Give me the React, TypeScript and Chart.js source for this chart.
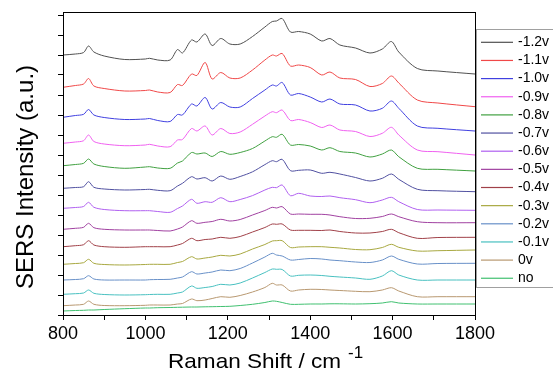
import React, { useEffect, useRef } from 'react';
import { Chart, registerables } from 'chart.js';

Chart.register(...registerables);

const FONT = "'Liberation Sans', Arial, sans-serif";

// Raman shift sample positions (cm^-1)
const ramanShift = [800, 830, 850, 862, 875, 900, 950, 1000, 1010, 1030, 1060, 1078, 1090, 1112, 1125, 1145, 1162, 1183, 1205, 1230, 1260, 1290, 1308, 1318, 1332, 1352, 1372, 1400, 1428, 1448, 1472, 1510, 1545, 1575, 1597, 1615, 1660, 1710, 1800];

const seriesLabels = ['-1.2v', '-1.1v', '-1.0v', '-0.9v', '-0.8v', '-0.7v', '-0.6v', '-0.5v', '-0.4v', '-0.3v', '-0.2v', '-0.1v', '0v', 'no'];

const seriesColors = ['#505050', '#f04848', '#4040e0', '#f060f0', '#40a040', '#5050a0', '#b060f0', '#a040a0', '#a04048', '#a8a840', '#6890c8', '#48c0c0', '#b89870', '#40c070'];

// Stacked SERS intensities (a.u., offset traces)
const v_m12 = [260, 261, 262.5, 269, 263, 259, 255.5, 256, 256.7, 255, 255, 265.5, 262, 275, 273, 281, 269.5, 276.5, 271, 271, 278.5, 288, 293.5, 294, 296.5, 283, 283.5, 281, 274, 276.5, 270, 267, 262, 266, 273.5, 263, 246.5, 244, 241];
const v_m11 = [227.7, 229.5, 231, 236.5, 229, 226.5, 224, 224.5, 225, 223, 222.5, 230.5, 229.5, 241, 239.5, 252.5, 236, 242.5, 237, 237, 245, 255, 260, 259, 261.5, 249, 250, 247.5, 240, 243, 237, 235.5, 228.5, 231.5, 239, 232, 215, 212, 208.3];
const v_m10 = [197.7, 199.5, 200.7, 205.5, 200, 197.5, 195.5, 196, 196.5, 194.5, 193.5, 200.5, 200, 211, 209, 217.5, 206, 212.5, 208, 208, 216.5, 225, 230, 229, 232.5, 220, 221.5, 218, 213, 216, 211, 210, 204, 206.7, 214, 206.7, 189, 186.7, 184];
const v_m09 = [171.7, 173, 174.3, 180, 173.5, 171, 169.3, 170, 170.7, 169, 168.3, 175, 175.5, 186.5, 184, 189, 180, 186.5, 181.5, 183, 190.7, 199, 203.3, 202.3, 205, 194.5, 195.5, 192.5, 187.5, 190, 185, 183.5, 178.5, 181.7, 187.7, 180, 165, 163.3, 160];
const v_m08 = [149.3, 150.5, 151.7, 156, 151, 148.5, 146.7, 148, 148.3, 147, 146.7, 152, 154, 162.5, 161, 162, 158.5, 163.5, 160.7, 162.5, 166.5, 174, 178.3, 177.7, 180.7, 170, 170.5, 169, 165, 167.3, 163.5, 162, 158, 161, 165, 158.3, 146.7, 145.7, 144];
const v_m07 = [126.7, 127.5, 128.3, 133.3, 127.7, 126, 125, 125.5, 125.7, 124.7, 124.3, 129, 131.7, 138.3, 136, 137.3, 134, 139, 135.7, 138.5, 143.2, 150.4, 154.3, 153.3, 155.7, 144.3, 144.7, 145, 141.7, 142.7, 141, 137.5, 134, 136.7, 141, 135.7, 125.7, 124.3, 123.3];
const v_m06 = [106.7, 107.5, 108.5, 112.7, 107.7, 105.5, 104.3, 104.3, 104.3, 103.5, 102.7, 106.5, 109, 115.7, 111.7, 113.3, 112.7, 117.3, 113.3, 115.5, 119.4, 125, 127.7, 127.3, 130, 119.3, 121.7, 119, 118.5, 119, 117.3, 115.3, 112.3, 115, 117.7, 113.3, 105.5, 105, 104.7];
const v_m05 = [85.7, 86.7, 87.7, 91.7, 87.3, 85.7, 85, 85, 85, 84.5, 84, 86, 88, 94.3, 91.7, 92.7, 93.5, 95.7, 94, 95.5, 100, 104.5, 107.7, 107, 108.3, 101, 101, 100.7, 100.7, 100, 98.3, 96.5, 96.7, 98.5, 101, 98.3, 93.3, 92.3, 92.3];
const v_m04 = [68.3, 69.3, 70.3, 74.3, 70, 68.3, 67.7, 68.3, 68.3, 68.3, 68.3, 70, 71.5, 76.7, 74.3, 75.5, 76, 77.7, 76.7, 78.5, 83, 87.5, 91, 90.7, 91, 85, 84.7, 84.7, 84.5, 85, 83.5, 82, 82, 83.5, 85.7, 82.3, 76.7, 77.5, 77.7];
const v_m03 = [50.7, 51.5, 52.3, 55.7, 51.7, 50.5, 50, 50.5, 50.7, 50.7, 50.7, 52.5, 53.5, 58.3, 56, 57, 58, 59.7, 59, 61, 66, 70.5, 74, 74.3, 74.3, 67.5, 68, 68.3, 68.3, 67.7, 67, 65.5, 65.3, 67.5, 70.7, 67.7, 64, 64.3, 65];
const v_m02 = [35, 35.5, 36.3, 39.3, 36, 35, 35, 35, 35.3, 35.5, 35.7, 37, 38, 43.3, 41, 42, 43, 45, 44.3, 46.5, 52, 58, 61.7, 60, 59, 55, 55.5, 56.5, 56, 55, 54.3, 53, 52.5, 55, 59, 55.7, 51, 51.5, 51.7];
const v_m01 = [20.7, 21.3, 22, 25, 21.7, 20.5, 20, 20.3, 20.5, 20.7, 20.7, 22, 23, 29, 26.7, 27.5, 28.5, 30.7, 30, 32, 37, 42.5, 46, 45.7, 45.5, 39, 39.7, 40, 39.5, 38.7, 38, 37, 35.7, 39, 44.3, 40, 35, 35, 35];
const v_0 = [9.3, 10, 10.7, 14, 10.7, 9.5, 9.3, 9.7, 10, 10, 10, 11, 11.5, 16, 14.3, 15, 16.5, 18.3, 17.7, 19.5, 23, 27.5, 31.7, 30, 30, 24, 25, 25.7, 25.5, 25, 24.5, 23.7, 23.3, 25, 27.3, 24, 18.3, 18.3, 18.3];
const v_no = [4, 4.5, 4.7, 5, 5, 5.5, 6.3, 7, 7, 7.3, 7.5, 7.7, 7.8, 8, 8, 8.2, 8.3, 8.5, 8.7, 9.5, 10.7, 12.5, 14, 13.7, 12.5, 10.7, 10.7, 11, 11, 11.2, 11.2, 11, 11.3, 12, 13.3, 12, 11, 11, 11];

const seriesValues = [v_m12, v_m11, v_m10, v_m09, v_m08, v_m07, v_m06, v_m05, v_m04, v_m03, v_m02, v_m01, v_0, v_no];

const xMin = 800;
const xMax = 1800;
const xLabelStep = 200;

const decorPlugin = {
  id: 'decor',
  afterDraw(chart: any) {
    const { ctx, chartArea: a } = chart;
    ctx.save();
    // frame
    ctx.strokeStyle = '#000';
    ctx.lineWidth = 1;
    ctx.strokeRect(a.left + 0.5, a.top + 0.5, a.right - a.left, a.bottom - a.top);

    ctx.fillStyle = '#000';
    // x title
    const main = 'Raman Shift / cm';
    ctx.font = `21px ${FONT}`;
    ctx.textBaseline = 'alphabetic';
    ctx.textAlign = 'left';
    const mw = ctx.measureText(main).width;
    const targetW = 173;
    const sx = targetW / mw;
    ctx.save();
    ctx.translate(168, 368);
    ctx.scale(sx, 1);
    ctx.fillText(main, 0, 0);
    ctx.restore();
    ctx.font = `17px ${FONT}`;
    ctx.fillText('-1', 348, 358);

    // y title
    ctx.save();
    ctx.font = `24px ${FONT}`;
    ctx.textAlign = 'center';
    ctx.textBaseline = 'alphabetic';
    ctx.translate(32.5, 177);
    ctx.rotate(-Math.PI / 2);
    ctx.fillText('SERS Intensity (a.u.)', 0, 0);
    ctx.restore();

    // legend
    const lx = 476, ly = 29, lh = 258;
    ctx.fillStyle = '#fff';
    ctx.fillRect(lx, ly, 100, lh);
    ctx.strokeStyle = '#a0a0a0';
    ctx.lineWidth = 1;
    ctx.strokeRect(lx + 0.5, ly + 0.5, 100, lh);
    ctx.font = `14px ${FONT}`;
    ctx.textAlign = 'left';
    ctx.textBaseline = 'middle';
    chart.data.datasets.forEach((ds: any, i: number) => {
      const y = 42.3 + i * 18.15;
      ctx.strokeStyle = ds.borderColor;
      ctx.lineWidth = 1.2;
      ctx.beginPath();
      ctx.moveTo(481, y);
      ctx.lineTo(513, y);
      ctx.stroke();
      ctx.fillStyle = '#000';
      ctx.fillText(ds.label, 518, y);
    });
    ctx.restore();
  },
};

export default function App() {
  const ref = useRef<HTMLCanvasElement>(null);
  useEffect(() => {
    if (!ref.current) return;
    const datasets = seriesValues.map((vals, i) => ({
      label: seriesLabels[i],
      data: ramanShift.map((x, j) => ({ x, y: vals[j] })),
      borderColor: seriesColors[i],
      backgroundColor: seriesColors[i],
      borderWidth: 1,
      pointRadius: 0,
      tension: 0.3,
      fill: false,
    }));
    const chart = new Chart(ref.current, {
      type: 'line',
      data: { datasets },
      options: {
        animation: false,
        responsive: false,
        layout: { padding: { top: 12, right: 78, left: 0, bottom: 0 } },
        plugins: { legend: { display: false }, tooltip: { enabled: false } },
        scales: {
          x: {
            type: 'linear',
            min: xMin,
            max: xMax,
            afterFit: (s: any) => { s.height = 55; },
            ticks: {
              stepSize: 100,
              autoSkip: false,
              maxRotation: 0,
              padding: 3,
              color: '#000',
              font: { family: FONT, size: 18 },
              callback: (v: any) => (Number(v) % xLabelStep === 0 ? String(v) : ''),
            },
            grid: { drawOnChartArea: false, tickLength: 5, tickColor: '#000', tickWidth: 1 },
            border: { color: '#000', width: 1 },
          },
          y: {
            min: 0,
            max: 303,
            afterFit: (s: any) => { s.width = 63; },
            ticks: {
              stepSize: 20,
              includeBounds: false,
              callback: () => '',
              font: { family: FONT, size: 10 },
            },
            grid: { drawOnChartArea: false, tickLength: 5, tickColor: '#000', tickWidth: 1 },
            border: { color: '#000', width: 1 },
          },
        },
      },
      plugins: [decorPlugin],
    });
    return () => chart.destroy();
  }, []);
  return (
    <div style={{ position: 'absolute', left: 0, top: 0, width: 553, height: 370 }}>
      <canvas ref={ref} width={553} height={370} style={{ width: 553, height: 370 }} />
    </div>
  );
}
